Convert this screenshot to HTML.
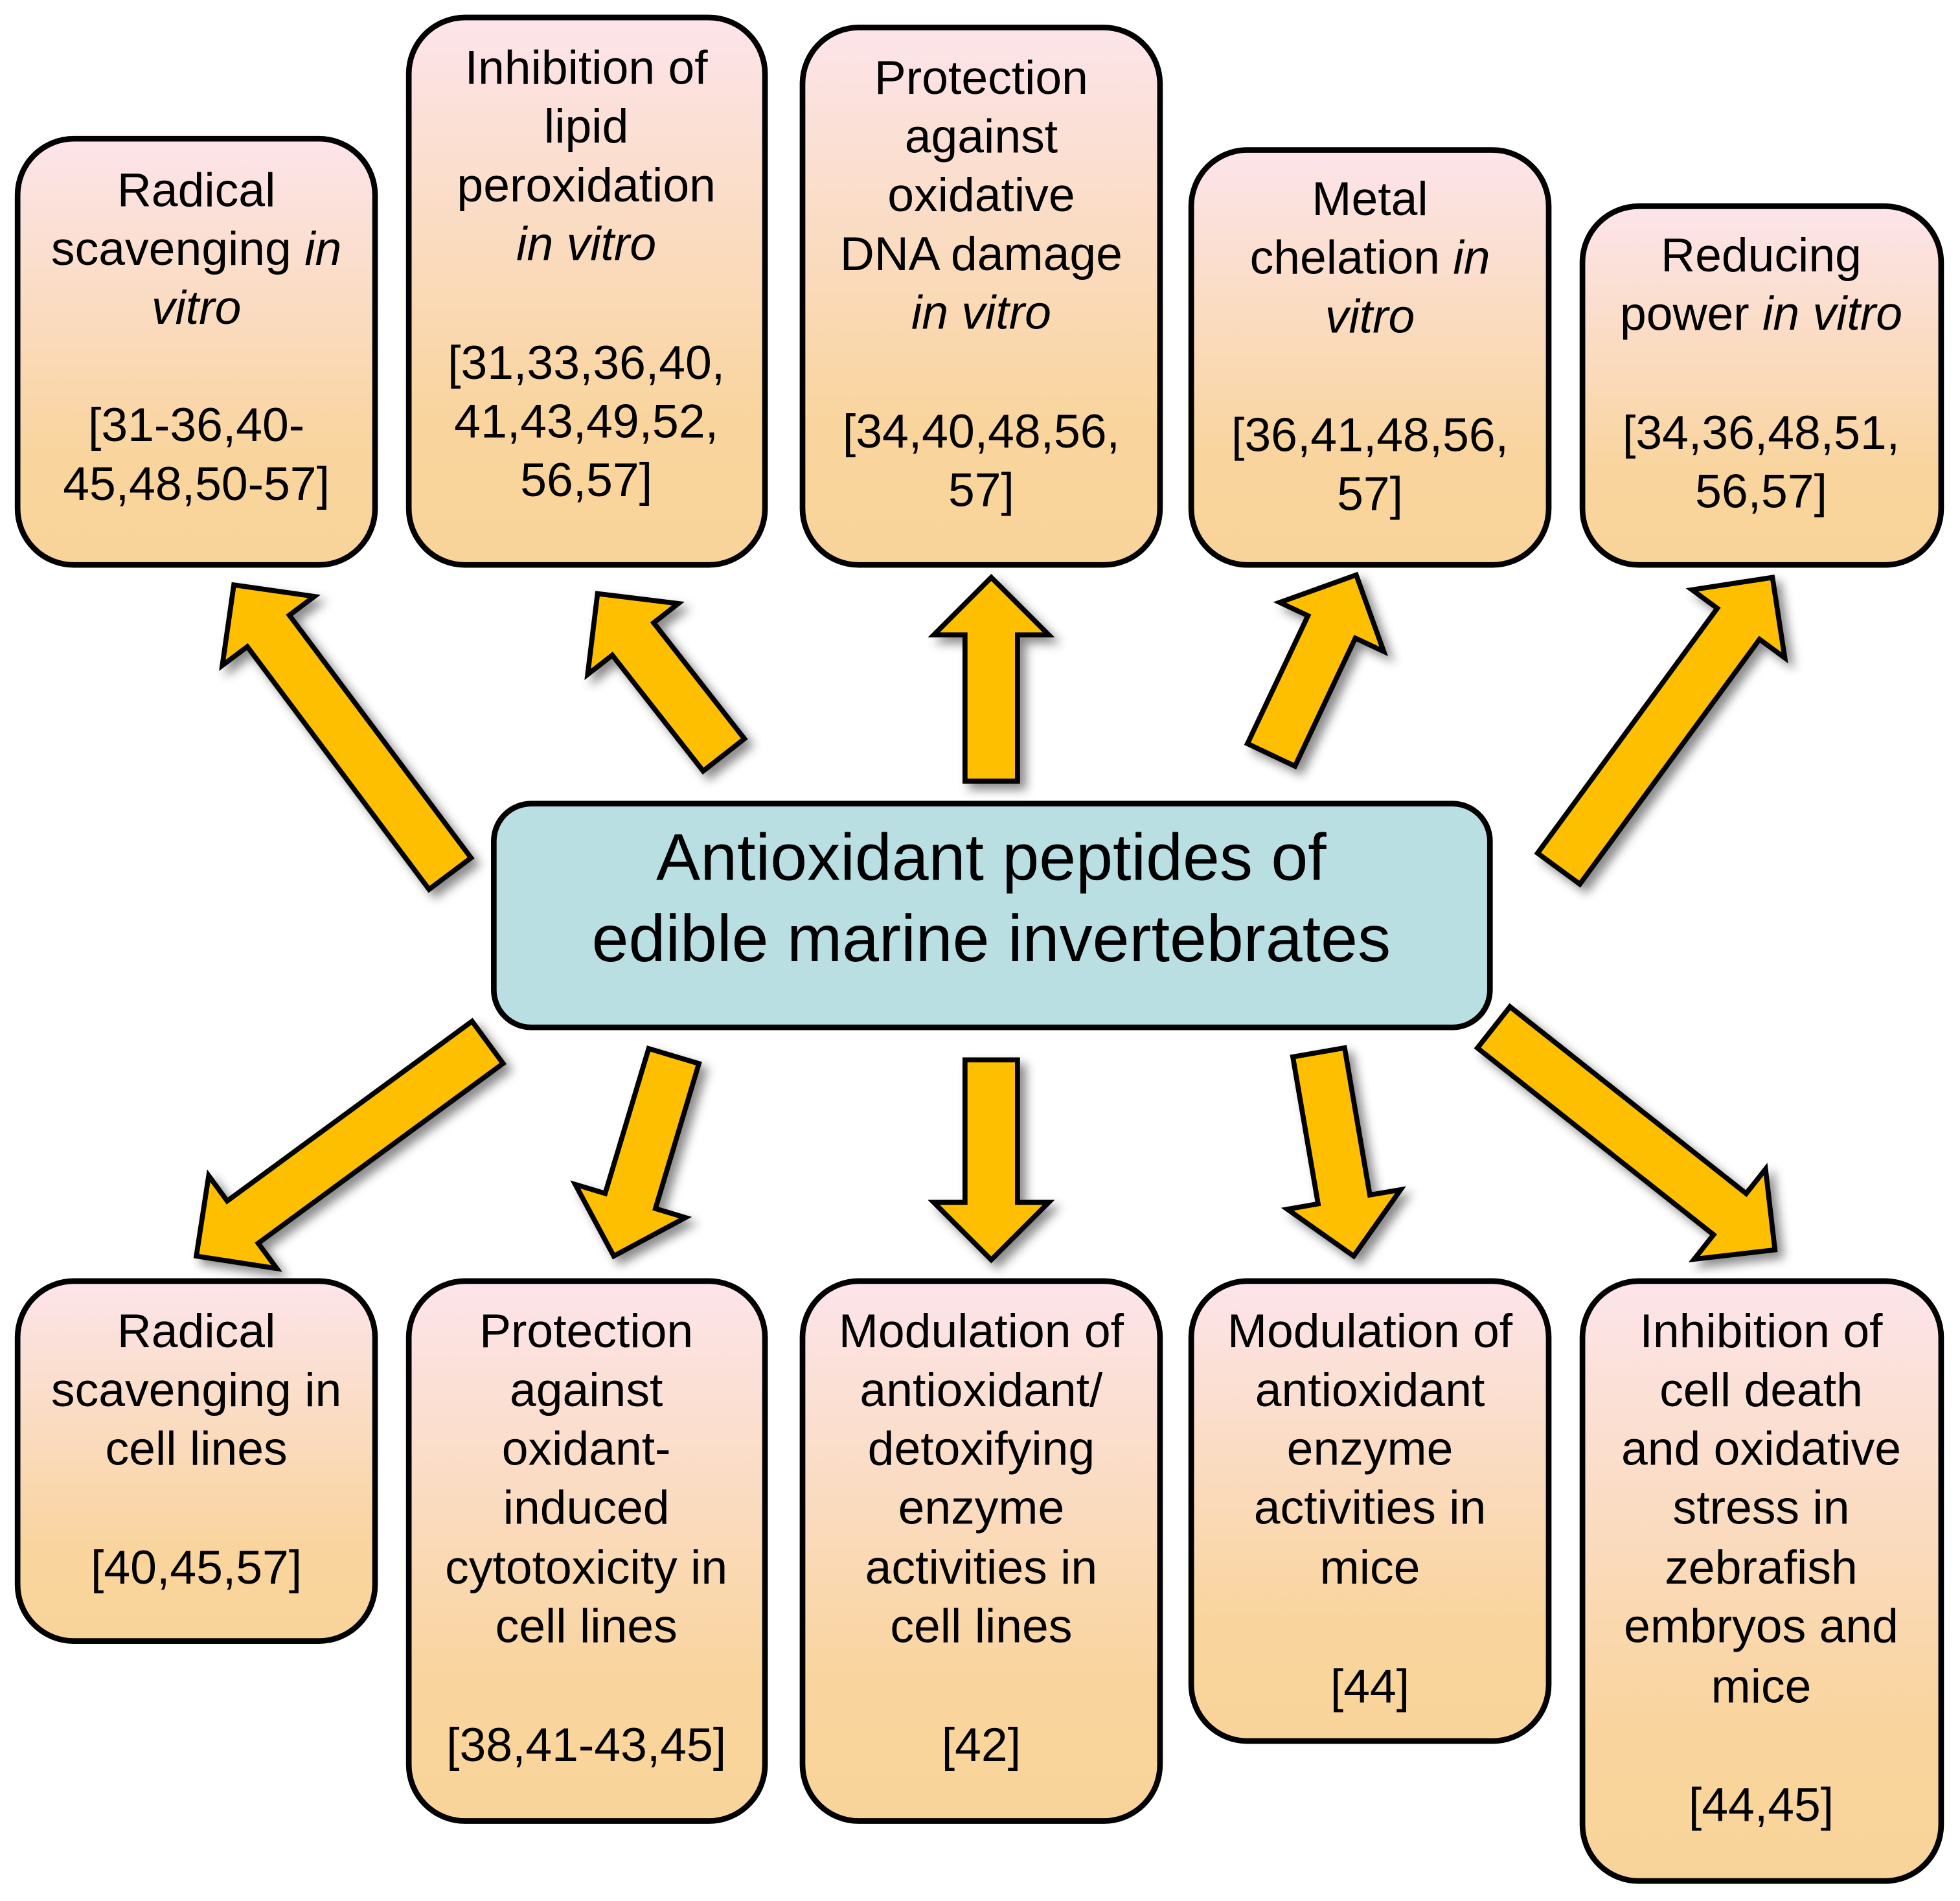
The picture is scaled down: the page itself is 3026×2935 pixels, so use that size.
<!DOCTYPE html>
<html><head><meta charset="utf-8"><style>
html,body{margin:0;padding:0;background:#fff;}
svg{display:block;}
text{font-family:"Liberation Sans",Arial,sans-serif;fill:#000;}
</style></head><body>
<svg id="s" width="3026" height="2935" viewBox="0 0 1568 1521" xmlns="http://www.w3.org/2000/svg">
<defs>
<linearGradient id="g" x1="0" y1="0" x2="0" y2="1">
<stop offset="0" stop-color="#fce4ea"/><stop offset="0.75" stop-color="#f9d49c"/><stop offset="1" stop-color="#f9d49a"/>
</linearGradient>
<filter id="sh" x="-30%" y="-30%" width="160%" height="160%">
<feDropShadow dx="5" dy="5" stdDeviation="4" flood-color="#000" flood-opacity="0.45"/>
</filter>
</defs>
<g id="arrows" filter="url(#sh)"></g>
<g stroke="#000" stroke-width="4.5" fill="url(#g)">
<rect x="14" y="111" width="286" height="341" rx="45"/>
<rect x="327" y="14" width="285" height="438" rx="45"/>
<rect x="642" y="22" width="286" height="430" rx="45"/>
<rect x="953" y="120" width="286" height="332" rx="45"/>
<rect x="1266" y="165" width="287" height="287" rx="45"/>
<rect x="14" y="1025" width="286" height="288" rx="45"/>
<rect x="327" y="1025" width="285" height="432" rx="45"/>
<rect x="642" y="1025" width="286" height="432" rx="45"/>
<rect x="953" y="1025" width="286" height="368" rx="45"/>
<rect x="1266" y="1025" width="287" height="480" rx="45"/>
<rect x="395" y="643" width="797" height="179" rx="30" fill="#b9dfe2"/>
</g>
<g font-size="38" text-anchor="middle" dominant-baseline="middle">
<text x="157" y="155">Radical</text>
<text x="157" y="202">scavenging <tspan font-style="italic">in</tspan></text>
<text x="157" y="249" font-style="italic">vitro</text>
<text x="157" y="343">[31-36,40-</text>
<text x="157" y="390">45,48,50-57]</text>

<text x="469" y="57">Inhibition of</text>
<text x="469" y="104">lipid</text>
<text x="469" y="151">peroxidation</text>
<text x="469" y="198" font-style="italic">in vitro</text>
<text x="469" y="293">[31,33,36,40,</text>
<text x="469" y="340">41,43,49,52,</text>
<text x="469" y="387">56,57]</text>

<text x="785" y="65">Protection</text>
<text x="785" y="112">against</text>
<text x="785" y="159">oxidative</text>
<text x="785" y="206">DNA damage</text>
<text x="785" y="253" font-style="italic">in vitro</text>
<text x="785" y="348">[34,40,48,56,</text>
<text x="785" y="395">57]</text>

<text x="1096" y="162">Metal</text>
<text x="1096" y="209">chelation <tspan font-style="italic">in</tspan></text>
<text x="1096" y="256" font-style="italic">vitro</text>
<text x="1096" y="351">[36,41,48,56,</text>
<text x="1096" y="398">57]</text>

<text x="1409" y="207">Reducing</text>
<text x="1409" y="254">power <tspan font-style="italic">in vitro</tspan></text>
<text x="1409" y="349">[34,36,48,51,</text>
<text x="1409" y="396">56,57]</text>

<text x="157" y="1068">Radical</text>
<text x="157" y="1115">scavenging in</text>
<text x="157" y="1162">cell lines</text>
<text x="157" y="1257">[40,45,57]</text>

<text x="469" y="1068">Protection</text>
<text x="469" y="1115">against</text>
<text x="469" y="1162">oxidant-</text>
<text x="469" y="1209">induced</text>
<text x="469" y="1257">cytotoxicity in</text>
<text x="469" y="1304">cell lines</text>
<text x="469" y="1399">[38,41-43,45]</text>

<text x="785" y="1068">Modulation of</text>
<text x="785" y="1115">antioxidant/</text>
<text x="785" y="1162">detoxifying</text>
<text x="785" y="1209">enzyme</text>
<text x="785" y="1257">activities in</text>
<text x="785" y="1304">cell lines</text>
<text x="785" y="1399">[42]</text>

<text x="1096" y="1068">Modulation of</text>
<text x="1096" y="1115">antioxidant</text>
<text x="1096" y="1162">enzyme</text>
<text x="1096" y="1209">activities in</text>
<text x="1096" y="1257">mice</text>
<text x="1096" y="1352">[44]</text>

<text x="1409" y="1068">Inhibition of</text>
<text x="1409" y="1115">cell death</text>
<text x="1409" y="1162">and oxidative</text>
<text x="1409" y="1209">stress in</text>
<text x="1409" y="1257">zebrafish</text>
<text x="1409" y="1304">embryos and</text>
<text x="1409" y="1352">mice</text>
<text x="1409" y="1447">[44,45]</text>
</g>
<g font-size="53" text-anchor="middle" dominant-baseline="middle">
<text x="793" y="690">Antioxidant peptides of</text>
<text x="793" y="755">edible marine invertebrates</text>
</g>
</svg>
<script>
var A=[
[360,699,187,468],[579,604,478,475],[793,625,793,462],[1017,604,1085,460],[1247,695,1418,462],
[390,834,157,1005],[539,845,491,1005],[793,848,793,1008],[1055,842,1083,1005],[1195,822,1420,1000]
];
var g=document.getElementById('arrows'),sw=42,hw=92,hl=46,out='';
A.forEach(function(a){
var dx=a[2]-a[0],dy=a[3]-a[1],L=Math.hypot(dx,dy),ux=dx/L,uy=dy/L,nx=-uy,ny=ux;
var bx=a[2]-ux*hl,by=a[3]-uy*hl;
var p=[[a[0]+nx*sw/2,a[1]+ny*sw/2],[bx+nx*sw/2,by+ny*sw/2],[bx+nx*hw/2,by+ny*hw/2],[a[2],a[3]],
[bx-nx*hw/2,by-ny*hw/2],[bx-nx*sw/2,by-ny*sw/2],[a[0]-nx*sw/2,a[1]-ny*sw/2]];
out+='<polygon points="'+p.map(function(q){return q[0].toFixed(1)+','+q[1].toFixed(1)}).join(' ')+'" fill="#fdbf00" stroke="#000" stroke-width="4" stroke-linejoin="miter"/>';
});
g.innerHTML=out;
</script>
</body></html>
